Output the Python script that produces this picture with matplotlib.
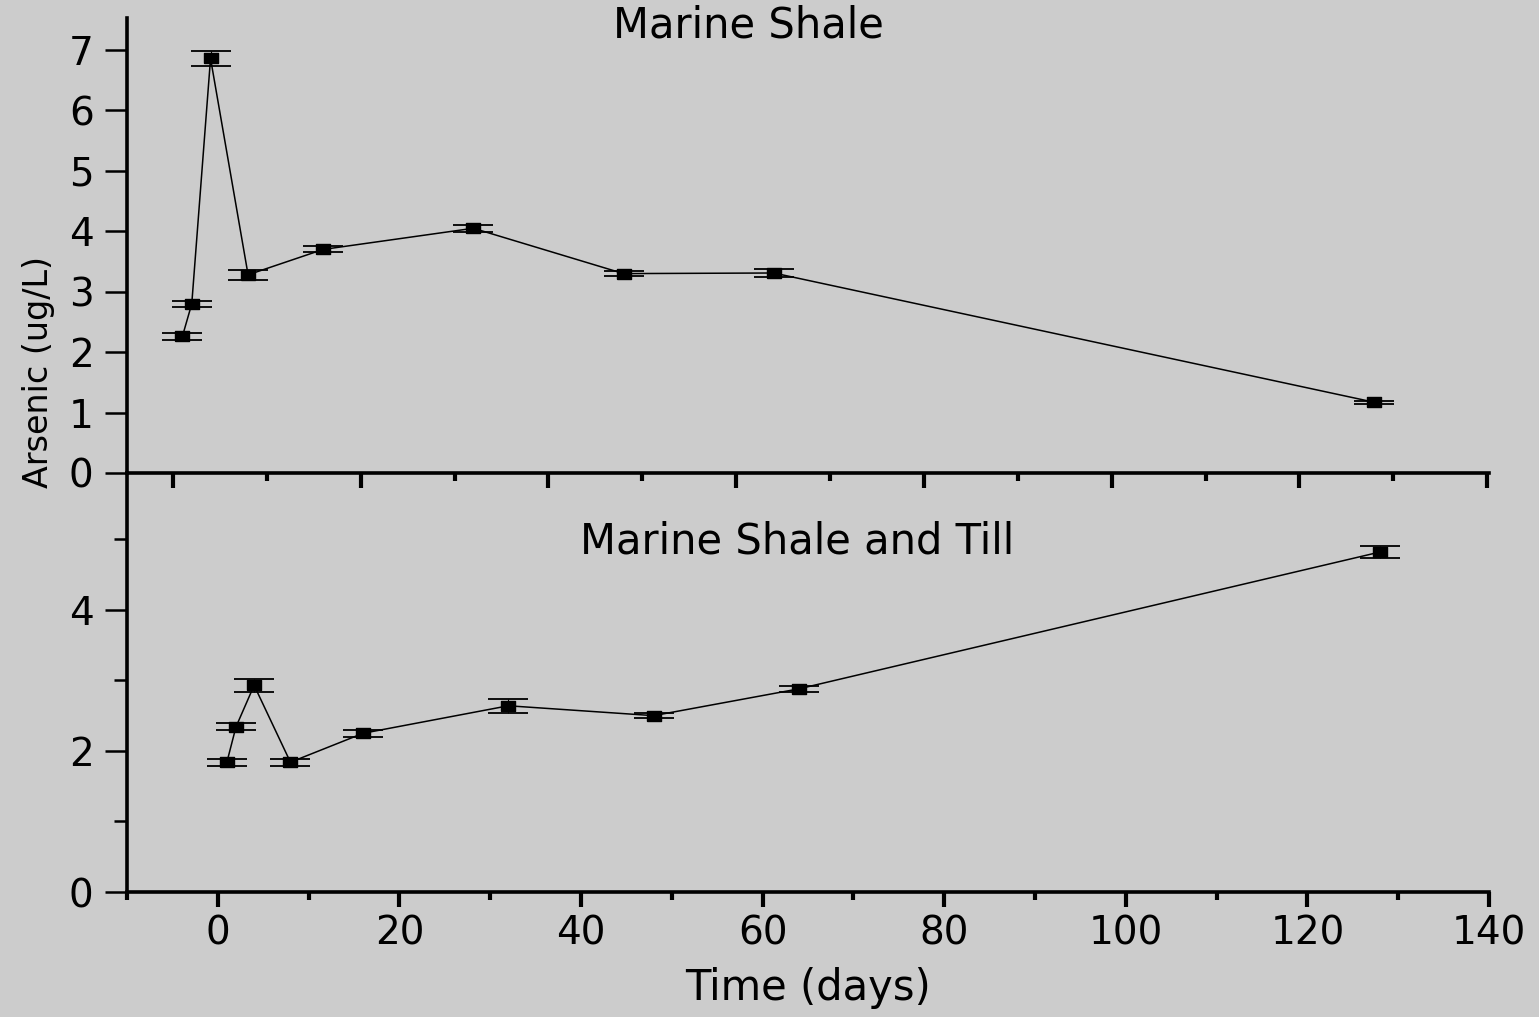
import matplotlib
matplotlib.use("Agg")
import matplotlib.pyplot as plt
from matplotlib.ticker import MultipleLocator

plt.rcParams['font.family'] = ['DejaVu Sans']

# sampling days (same for both soils)
days = [1, 2, 4, 8, 16, 32, 48, 64, 128]

# Marine Shale
shale = [2.26, 2.80, 6.86, 3.28, 3.70, 4.05, 3.30, 3.31, 1.17]
shale_err = [0.06, 0.05, 0.13, 0.08, 0.05, 0.06, 0.04, 0.06, 0.02]

# Marine Shale and Till
till = [1.84, 2.34, 2.93, 1.84, 2.25, 2.64, 2.50, 2.88, 4.82]
till_err = [0.05, 0.05, 0.09, 0.05, 0.05, 0.10, 0.04, 0.04, 0.08]

BG = '#cccccc'
rect = [(-1, -0.75), (1, -0.75), (1, 0.75), (-1, 0.75), (-1, -0.75)]

fig = plt.figure(figsize=(15.39, 10.17), dpi=100, facecolor=BG)
L, R = 127 / 1539, 1489 / 1539
y_mid = 1 - 473 / 1017
ax_bot = fig.add_axes([L, 1 - 892 / 1017, R - L, y_mid - (1 - 892 / 1017)])
ax_top = fig.add_axes([L, y_mid, R - L, (1 - 18 / 1017) - y_mid])
ax_top.set_zorder(3)


def draw(ax, y, err):
    ax.patch.set_visible(False)
    ax.plot(days, y, color='black', lw=1.1, zorder=2)
    eb = ax.errorbar(days, y, yerr=err, fmt='none', ecolor='black',
                     elinewidth=0.8, capsize=14.5, capthick=1.3, zorder=3)
    for cap in eb[1]:
        cap.set_color('#555555')
    ax.plot(days, y, ls='none', marker=rect, ms=10, color='black', zorder=4)
    for s in ['top', 'right']:
        ax.spines[s].set_visible(False)
    for s in ['left', 'bottom']:
        ax.spines[s].set_linewidth(2.6)
    ax.tick_params(axis='x', which='major', direction='out', length=11, width=3)
    ax.tick_params(axis='x', which='minor', direction='out', length=6, width=3)
    ax.tick_params(axis='y', which='both', direction='out', width=1.8,
                   labelsize=28, pad=8)
    ax.tick_params(axis='x', labelsize=28, pad=5)
    ax.xaxis.set_major_locator(MultipleLocator(20))
    ax.xaxis.set_minor_locator(MultipleLocator(10))


draw(ax_top, shale, shale_err)
ax_top.set_xlim(-4.9, 140.2)
ax_top.set_ylim(0, 7.53)
ax_top.yaxis.set_major_locator(MultipleLocator(1))
ax_top.tick_params(axis='y', which='major', length=16)
ax_top.tick_params(axis='x', labelbottom=False)

draw(ax_bot, till, till_err)
ax_bot.set_xlim(-10, 140)
ax_bot.set_ylim(0, 5.94)
ax_bot.yaxis.set_major_locator(MultipleLocator(2))
ax_bot.yaxis.set_minor_locator(MultipleLocator(1))
ax_bot.tick_params(axis='y', which='major', length=16)
ax_bot.tick_params(axis='y', which='minor', length=9.5)

fig.text(0.486, 0.963, 'Marine Shale', ha='center', va='baseline', fontsize=30)
fig.text(0.518, 0.4553, 'Marine Shale and Till', ha='center', va='baseline', fontsize=30)
fig.text(0.525, 0.0167, 'Time (days)', ha='center', va='baseline', fontsize=30)
fig.text(0.0247, 0.634, 'Arsenic (ug/L)', ha='center', va='center',
         rotation=90, fontsize=24)

fig.savefig('out.png', dpi=100, facecolor=BG)
